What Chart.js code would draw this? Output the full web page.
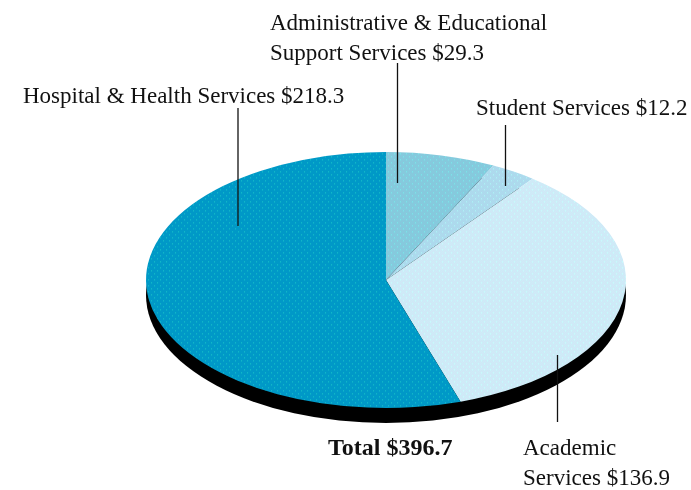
<!DOCTYPE html>
<html>
<head>
<meta charset="utf-8">
<title>Expenditures</title>
<style>
    html, body { margin: 0; padding: 0; background: #fff; }
    canvas { display: block; }
</style>
<script src="https://cdn.jsdelivr.net/npm/chart.js@4"></script>
</head>
<body>
<canvas id="pie" width="691" height="490"></canvas>
<script>
// clockwise from twelve o'clock
const categories = [
    'Administrative & Educational Support Services',
    'Student Services',
    'Academic Services',
    'Hospital & Health Services'
];
const amounts = [29.3, 12.2, 136.9, 218.3];
const totalAmount = 396.7;

const TILT = 128 / 240;     // how much the disc is squashed
const CENTER_Y = 280;
const DEPTH = 15;           // thickness of the black rim

const money = v => '$' + v.toFixed(1);

// text blocks, one entry per line
const captions = [
    { x: 270, y: 30, text: 'Administrative & Educational' },
    { x: 270, y: 60, text: 'Support Services ' + money(amounts[0]) },
    { x: 476, y: 115, text: categories[1] + ' ' + money(amounts[1]) },
    { x: 23, y: 103, text: categories[3] + ' ' + money(amounts[3]) },
    { x: 523, y: 455, text: 'Academic' },
    { x: 523, y: 485, text: 'Services ' + money(amounts[2]) },
    { x: 328, y: 455, text: 'Total ' + money(totalAmount), bold: true }
];

const leaders = [
    { x: 238, from: 108, to: 226 },
    { x: 397.5, from: 63, to: 183 },
    { x: 505.5, from: 125, to: 186 },
    { x: 557.5, from: 355, to: 422 }
];

// halftone screen for a slice, kept at screen scale while the disc is squashed
function screenPattern(base, check, dot) {
    const tile = document.createElement('canvas');
    tile.width = 6;
    tile.height = 6;
    const t = tile.getContext('2d');
    t.fillStyle = base;
    t.fillRect(0, 0, 6, 6);
    t.fillStyle = check;
    for (let y = 0; y < 6; y++) {
        for (let x = 0; x < 6; x++) {
            if ((x + y) % 2 === 0) t.fillRect(x, y, 1, 1);
        }
    }
    t.fillStyle = dot;
    t.fillRect(1, 1, 1, 1);
    t.fillRect(4, 4, 1, 1);
    const p = t.createPattern(tile, 'repeat');
    p.setTransform(new DOMMatrix().scale(1, 1 / TILT));
    return p;
}

const ctx = document.getElementById('pie').getContext('2d');

const sliceColors = [
    screenPattern('#80cbdf', '#8cc9dc', '#7cf0ee'),
    screenPattern('#a5dced', '#b6d8ee', '#b6fbfb'),
    screenPattern('#ccf2f9', '#d2e2f6', '#c4ffff'),
    screenPattern('#0098c9', '#009ac6', '#1cc8c8')
];

// squashes the round pie into a disc and puts the black rim under it
const tiltPlugin = {
    id: 'tilt',
    beforeDatasetsDraw(chart) {
        const c = chart.ctx;
        const arc = chart.getDatasetMeta(0).data[0];
        c.save();
        c.translate(0, CENTER_Y);
        c.scale(1, TILT);
        c.translate(0, -arc.y);

        c.fillStyle = '#000';
        c.beginPath();
        c.arc(arc.x, arc.y + DEPTH / TILT, arc.outerRadius, 0, Math.PI * 2);
        c.fill();
    },
    afterDatasetsDraw(chart) {
        chart.ctx.restore();
    }
};

const notesPlugin = {
    id: 'notes',
    afterDraw(chart) {
        const c = chart.ctx;
        c.save();
        c.strokeStyle = '#111';
        c.lineWidth = 1.3;
        leaders.forEach(l => {
            c.beginPath();
            c.moveTo(l.x, l.from);
            c.lineTo(l.x, l.to);
            c.stroke();
        });
        c.fillStyle = '#111';
        c.textBaseline = 'alphabetic';
        captions.forEach(cap => {
            c.font = cap.bold ? 'bold 24px "Liberation Serif"' : '23px "Liberation Serif"';
            c.fillText(cap.text, cap.x, cap.y);
        });
        c.restore();
    }
};

new Chart(ctx, {
    type: 'pie',
    data: {
        labels: categories,
        datasets: [{
            data: amounts,
            backgroundColor: sliceColors,
            borderWidth: 0
        }]
    },
    options: {
        responsive: false,
        animation: false,
        events: [],
        layout: {
            padding: { left: 146, right: 65, top: 5, bottom: 5 }
        },
        plugins: {
            legend: { display: false },
            tooltip: { enabled: false }
        }
    },
    plugins: [tiltPlugin, notesPlugin]
});
</script>
</body>
</html>
